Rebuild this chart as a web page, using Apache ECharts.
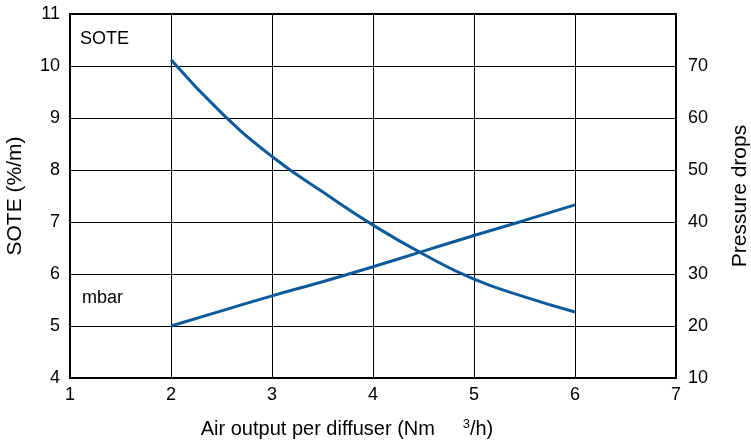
<!DOCTYPE html>
<html>
<head>
<meta charset="utf-8">
<script src="https://cdn.jsdelivr.net/npm/echarts@6/dist/echarts.min.js"></script>
<style>
  html, body { margin: 0; padding: 0; background: #fff; }
  #chart { width: 751px; height: 440px; }
</style>
</head>
<body>
<div id="chart"></div>
<script>
// Air flow per diffuser (Nm3/h)
const airFlow = [2, 2.5, 3, 3.5, 4, 4.5, 5, 5.5, 6];
// Standard oxygen transfer efficiency (%/m)
const sote = [10.12, 9.1, 8.26, 7.58, 6.94, 6.38, 5.9, 5.56, 5.27];
// Pressure drop (mbar)
const pressureDrop = [20, 22.9, 25.8, 28.5, 31.4, 34.4, 37.4, 40.3, 43.3];

const xTicks = [1, 2, 3, 4, 5, 6, 7];
const soteTicks = [4, 5, 6, 7, 8, 9, 10, 11];
const pressureTicks = [10, 20, 30, 40, 50, 60, 70];

const FONT = 'Liberation Sans, Arial, sans-serif';
const LINE = '#0b5a9c';

const chart = echarts.init(document.getElementById('chart'), null, { renderer: 'canvas' });

chart.setOption({
  animation: false,
  backgroundColor: '#fff',
  grid: {
    left: 70, right: 75, top: 14, bottom: 62,
    outerBoundsMode: 'none',
    containLabel: false,
    show: true, borderColor: '#000', borderWidth: 2, backgroundColor: 'transparent'
  },
  xAxis: {
    type: 'value',
    min: xTicks[0], max: xTicks[xTicks.length - 1], interval: 1,
    axisLine: { show: true, lineStyle: { color: '#000', width: 2 } },
    axisTick: { show: false },
    splitLine: { show: true, lineStyle: { color: '#000', width: 1 } },
    axisLabel: { color: '#000', fontFamily: FONT, fontSize: 18, margin: 8 },
    name: '{t|Air output per diffuser (Nm     }{s|3}{t|/h)}',
    nameLocation: 'middle',
    nameGap: 40,
    nameTextStyle: {
      padding: [0, 52, 0, 0],
      rich: {
        t: { fontFamily: FONT, fontSize: 20, color: '#000' },
        s: { fontFamily: FONT, fontSize: 13, color: '#000', padding: [0, 0, 9, 0] }
      }
    }
  },
  yAxis: [
    {
      type: 'value',
      min: soteTicks[0], max: soteTicks[soteTicks.length - 1], interval: 1,
      axisLine: { show: true, lineStyle: { color: '#000', width: 2 } },
      axisTick: { show: false },
      splitLine: { show: true, lineStyle: { color: '#000', width: 1 } },
      axisLabel: { color: '#000', fontFamily: FONT, fontSize: 18, margin: 10 },
      name: 'SOTE (%/m)',
      nameLocation: 'middle',
      nameGap: 44,
      nameTextStyle: { color: '#000', fontFamily: FONT, fontSize: 21 }
    },
    {
      type: 'value',
      position: 'right',
      min: pressureTicks[0], max: 80, interval: 10,
      axisLine: { show: true, lineStyle: { color: '#000', width: 2 } },
      axisTick: { show: false },
      splitLine: { show: false },
      axisLabel: {
        color: '#000', fontFamily: FONT, fontSize: 18, margin: 12,
        formatter: v => (pressureTicks.includes(v) ? String(v) : '')
      },
      name: 'Pressure drops',
      nameLocation: 'middle',
      nameGap: 54,
      nameRotate: 90,
      nameTextStyle: { color: '#000', fontFamily: FONT, fontSize: 21 }
    }
  ],
  series: [
    {
      name: 'SOTE',
      type: 'line',
      yAxisIndex: 0,
      smooth: true,
      symbol: 'none',
      lineStyle: { color: LINE, width: 3 },
      data: airFlow.map((x, i) => [x, sote[i]])
    },
    {
      name: 'mbar',
      type: 'line',
      yAxisIndex: 1,
      smooth: true,
      symbol: 'none',
      lineStyle: { color: LINE, width: 3 },
      data: airFlow.map((x, i) => [x, pressureDrop[i]])
    }
  ],
  graphic: [
    {
      type: 'text', left: 80, top: 30,
      style: { text: 'SOTE', fill: '#000', font: '18px ' + FONT }
    },
    {
      type: 'text', left: 82, top: 289,
      style: { text: 'mbar', fill: '#000', font: '18px ' + FONT }
    }
  ]
});
</script>
</body>
</html>
